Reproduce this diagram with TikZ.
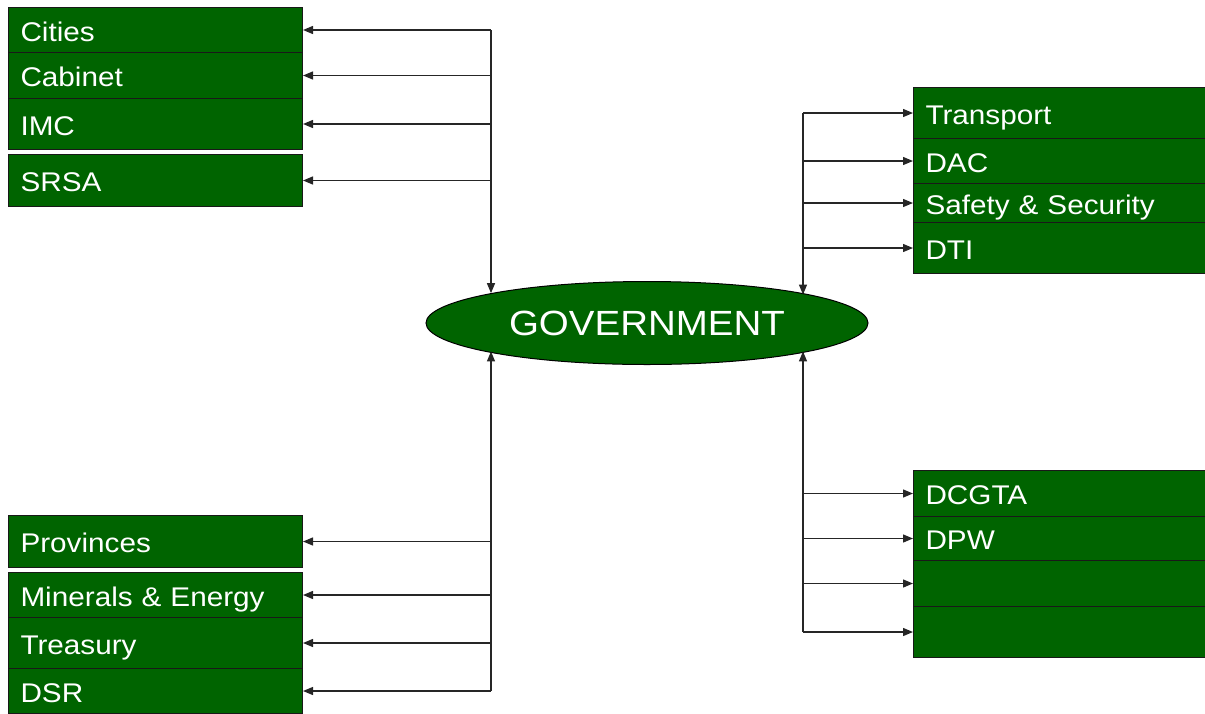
\documentclass[tikz,border=0pt]{standalone}
\usepackage{fontspec}
\setmainfont{Liberation Sans}[FakeStretch=1.1]
\usetikzlibrary{shapes.geometric,arrows.meta}
\definecolor{boxgreen}{RGB}{0,100,0}
\tikzset{
  row/.style={draw=black!90, fill=boxgreen, text=white, anchor=north west,
    text width=270pt, inner xsep=12pt, inner ysep=0pt, align=left,
    font=\fontsize{27}{30}\selectfont, text height=24pt, text depth=2pt, line width=1pt},
  rowR/.style={row, text width=268pt},
  gov/.style={ellipse, draw=black, fill=boxgreen, text=white, minimum width=442pt,
    minimum height=83pt, inner sep=0pt, outer sep=0pt, font=\fontsize{35}{40}\selectfont, line width=1pt},
  link/.style={-{Triangle[length=10pt,width=8pt]}, line width=1.3pt, draw=black!85},
}
\begin{document}
\begin{tikzpicture}[x=1pt,y=-1pt]
    \useasboundingbox (0,0) rectangle (1205,713);

    \node[gov] (gov) at (647,323) {GOVERNMENT};

    \node[row, minimum height=45pt] (cities) at (8,7) {Cities};
    \node[row, minimum height=46pt] (cabinet) at (8,52) {Cabinet};
    \node[row, minimum height=51pt] (imc) at (8,98) {IMC};
    \node[row, minimum height=52pt] (srsa) at (8,154) {SRSA};

    \node[row, minimum height=52pt] (provinces) at (8,515) {Provinces};
    \node[row, minimum height=45pt] (minerals) at (8,572) {Minerals \& Energy};
    \node[row, minimum height=51pt] (treasury) at (8,617) {Treasury};
    \node[row, minimum height=45pt] (dsr) at (8,668) {DSR};

    \node[rowR, minimum height=51pt] (transport) at (913,87) {Transport};
    \node[rowR, minimum height=45pt] (dac) at (913,138) {DAC};
    \node[rowR, minimum height=39pt] (safety) at (913,183) {Safety \& Security};
    \node[rowR, minimum height=51pt] (dti) at (913,222) {DTI};

    \node[rowR, minimum height=46pt] (dcgta) at (913,470) {DCGTA};
    \node[rowR, minimum height=44pt] (dpw) at (913,516) {DPW};
    \node[rowR, minimum height=46pt] (blankA) at (913,560) {};
    \node[rowR, minimum height=51pt] (blankB) at (913,606) {};

    \coordinate (trunkL) at (491,0);
    \coordinate (trunkR) at (803,0);

    % top left
    \draw[link] (cities.east -| trunkL) -- (gov.169.3 -| trunkL);
    \draw[link] (cities.east -| trunkL) -- (cities.east);
    \draw[link] (cabinet.east -| trunkL) -- (cabinet.east);
    \draw[link] (imc.east -| trunkL) -- (imc.east);
    \draw[link] (srsa.east -| trunkL) -- (srsa.east);

    % bottom left
    \draw[link] (dsr.east -| trunkL) -- (gov.190.7 -| trunkL);
    \draw[link] (provinces.east -| trunkL) -- (provinces.east);
    \draw[link] (minerals.east -| trunkL) -- (minerals.east);
    \draw[link] (treasury.east -| trunkL) -- (treasury.east);
    \draw[link] (dsr.east -| trunkL) -- (dsr.east);

    % top right
    \draw[link] (transport.west -| trunkR) -- (gov.10.7 -| trunkR);
    \draw[link] (transport.west -| trunkR) -- (transport.west);
    \draw[link] (dac.west -| trunkR) -- (dac.west);
    \draw[link] (safety.west -| trunkR) -- (safety.west);
    \draw[link] (dti.west -| trunkR) -- (dti.west);

    % bottom right
    \draw[link] (blankB.west -| trunkR) -- (gov.-10.7 -| trunkR);
    \draw[link] (dcgta.west -| trunkR) -- (dcgta.west);
    \draw[link] (dpw.west -| trunkR) -- (dpw.west);
    \draw[link] (blankA.west -| trunkR) -- (blankA.west);
    \draw[link] (blankB.west -| trunkR) -- (blankB.west);
\end{tikzpicture}
\end{document}
